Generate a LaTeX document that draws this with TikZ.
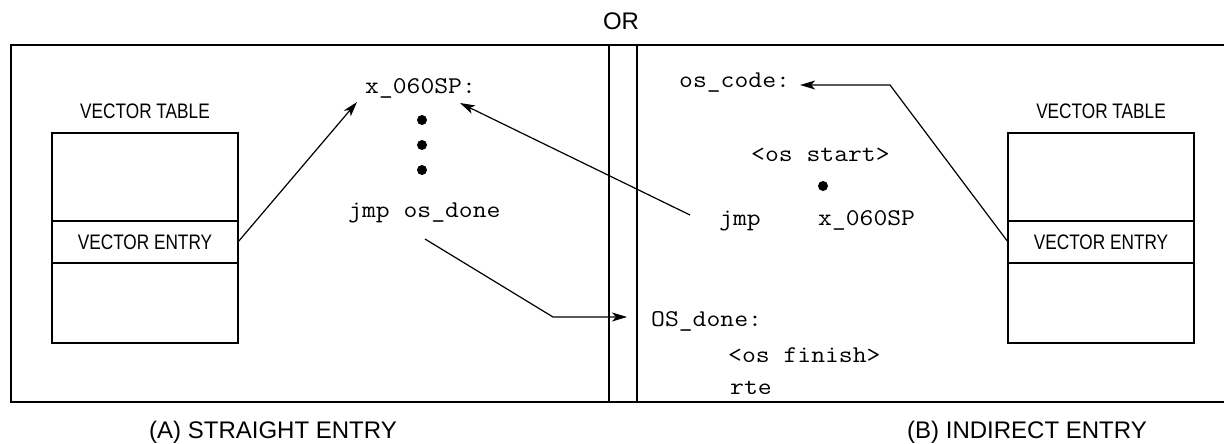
\documentclass[tikz,border=0pt]{standalone}
\usepackage{fontspec}
\setmainfont{Liberation Sans}
\newfontfamily\codetype[FakeStretch=1.12]{Latin Modern Mono}
\newfontfamily\narrowsf[FakeStretch=0.82]{Liberation Sans}
\usetikzlibrary{arrows.meta,positioning}

\newcommand{\codefont}{\codetype\fontsize{24}{28}\selectfont}
\newcommand{\labelfont}{\narrowsf\fontsize{21}{25}\selectfont}
\newcommand{\capfont}{\fontsize{24}{29}\selectfont}

\begin{document}
\begin{tikzpicture}[x=1pt, y=-1pt, >={Stealth[length=15pt,width=9pt,inset=4pt]},
  cell/.style={draw, line width=2.6pt, outer sep=0pt, inner sep=0pt, minimum width=186pt},
  code/.style={anchor=base west, inner sep=0pt, font=\codefont},
  dot/.style={circle, fill, inner sep=0pt, minimum size=10pt},
  link/.style={->, line width=1.2pt}]
  \useasboundingbox (0,0) rectangle (1224,444);

  % frame and middle divider
  \draw[line width=2.6pt] (1226,45) -- (11,45) -- (11,402) -- (1226,402);
  \coordinate (divAt) at (609,45);
  \coordinate (divAb) at (609,402);
  \coordinate (divBt) at (637,45);
  \coordinate (divBb) at (637,402);
  \draw[line width=2.6pt] (divAt) -- (divAb);
  \draw[line width=2.6pt] (divBt) -- (divBb);
  \node[font=\capfont] (or) at (621,21) {OR};

  % (A) straight entry
  \node[cell, minimum height=88pt] (topA) at (145,177) {};
  \node[cell, minimum height=42pt, below=0pt of topA, font=\labelfont] (entA) {VECTOR ENTRY};
  \node[cell, minimum height=80pt, below=0pt of entA] (botA) {};
  \node[font=\labelfont, above=11pt of topA] (vtA) {VECTOR TABLE};
  \node[code] (xsp) at (365,93) {x\_060SP:};
  \node[dot] (d1) at (422,120) {};
  \node[dot] (d2) at (422,145) {};
  \node[dot] (d3) at (422,170) {};
  \node[code] (jmpA) at (348,217) {jmp os\_done};
  \node[anchor=base west, inner sep=0pt, font=\capfont] (capA) at (149,438) {(A) STRAIGHT ENTRY};

  % (B) indirect entry
  \node[cell, minimum height=88pt] (topB) at (1101,177) {};
  \node[cell, minimum height=42pt, below=0pt of topB, font=\labelfont] (entB) {VECTOR ENTRY};
  \node[cell, minimum height=80pt, below=0pt of entB] (botB) {};
  \node[font=\labelfont, above=11pt of topB] (vtB) {VECTOR TABLE};
  \node[code] (oscode) at (679,88) {os\_code:};
  \node[code] (osstart) at (751,161) {<os start>};
  \node[dot] (d4) at (823,186) {};
  \node[code] (jmpB) at (719,225) {jmp};
  \node[code] (xspB) at (818,225) {x\_060SP};
  \node[code] (osdone) at (651,326) {OS\_done:};
  \node[code] (osfin) at (728,362) {<os finish>};
  \node[code] (rte) at (730,394) {rte};
  \node[anchor=base west, inner sep=0pt, font=\capfont] (capB) at (907,438) {(B) INDIRECT ENTRY};

  % connectors
  \coordinate (tipA) at (357,102);
  \draw[link] (entA.east) -- (tipA);
  \coordinate (fromJmp) at (690,215);
  \coordinate (tipB) at (460,103);
  \draw[link] (fromJmp) -- (tipB);
  \coordinate (fromDone) at (425,239);
  \coordinate (kneeDone) at (553,317);
  \draw[link] (fromDone) -- (kneeDone) -- ([xshift=-24pt]osdone.west |- kneeDone);
  \coordinate (kneeCode) at (890,85);
  \draw[link] (entB.west) -- (kneeCode) -- ([xshift=10pt]oscode.east |- kneeCode);
\end{tikzpicture}
\end{document}
